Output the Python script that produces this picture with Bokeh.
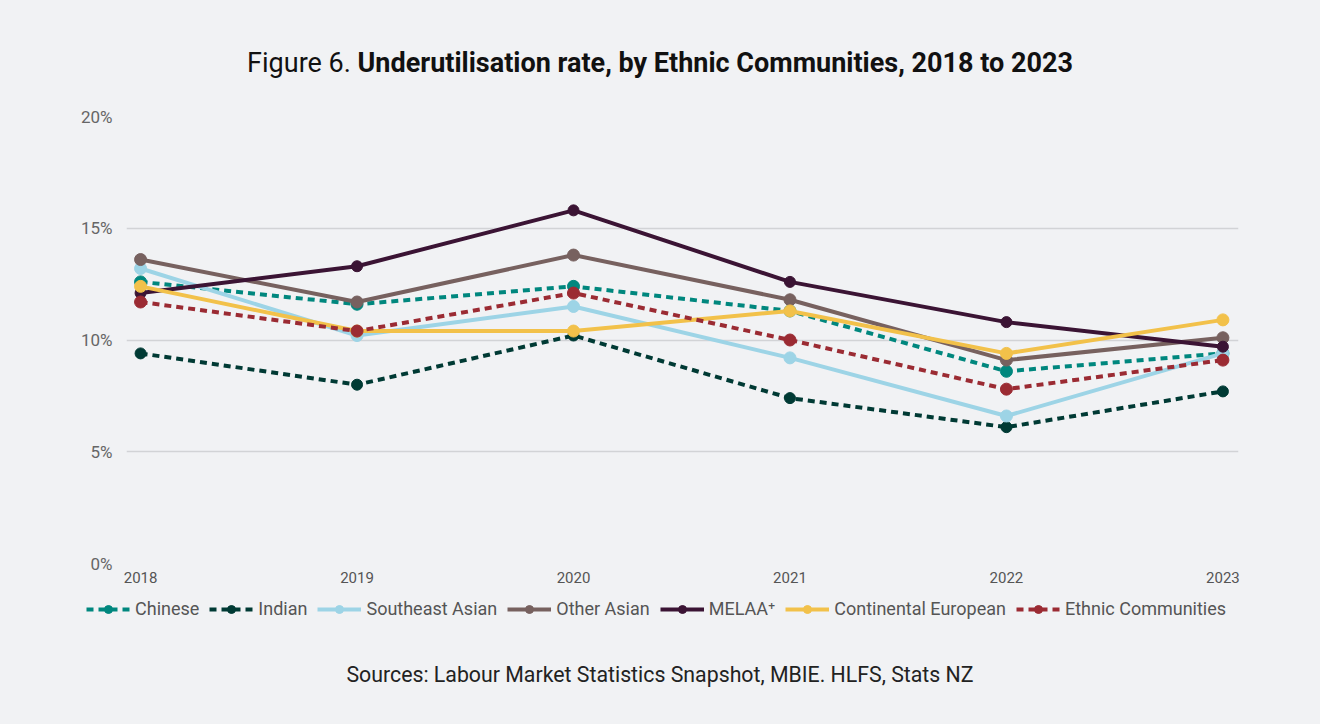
from bokeh.plotting import figure
from bokeh.models import (Range1d, FixedTicker, Legend, LegendItem, ColumnDataSource, Div)
from bokeh.layouts import column
from bokeh.embed import file_html
from bokeh.resources import INLINE

years = [2018, 2019, 2020, 2021, 2022, 2023]
chinese = [12.6, 11.6, 12.4, 11.3, 8.6, 9.4]
indian = [9.4, 8.0, 10.2, 7.4, 6.1, 7.7]
southeast_asian = [13.2, 10.2, 11.5, 9.2, 6.6, 9.4]
other_asian = [13.6, 11.7, 13.8, 11.8, 9.1, 10.1]
melaa = [12.1, 13.3, 15.8, 12.6, 10.8, 9.7]
continental_european = [12.4, 10.4, 10.4, 11.3, 9.4, 10.9]
ethnic_communities = [11.7, 10.4, 12.1, 10.0, 7.8, 9.1]

series_names = ["Chinese", "Indian", "Southeast Asian", "Other Asian", "MELAA\u207a",
                "Continental European", "Ethnic Communities"]
series_values = [chinese, indian, southeast_asian, other_asian, melaa,
                 continental_european, ethnic_communities]
series_colors = ["#00877E", "#003A34", "#9DD4E6", "#77615F", "#3B1434", "#F2C14A", "#9B2B33"]
series_dashed = [True, True, False, False, False, False, True]
series_marker = [12, 11, 12, 12, 11, 12, 12]

y_ticks = [0, 5, 10, 15, 20]
y_labels = ["0%", "5%", "10%", "15%", "20%"]

BG = "#F1F2F4"
W = 1320
TITLE_H = 80
FIG_H = 512
LEG_H = 34
SRC_H = 98

title = Div(text='<span style="font-weight:normal">Figure 6. </span>'
                 '<span style="font-weight:bold">Underutilisation rate, by Ethnic Communities, 2018 to 2023</span>',
            width=W, height=TITLE_H,
            styles={"background-color": BG, "font-family": "Roboto", "font-size": "27px",
                    "color": "#111111", "text-align": "center", "width": f"{W}px",
                    "padding-top": "44px", "box-sizing": "border-box", "margin": "0"})

p = figure(width=W, height=FIG_H, output_backend="svg", toolbar_location=None,
           x_range=Range1d(2017.935, 2023.072), y_range=Range1d(0, 20),
           min_border_left=126, min_border_right=82,
           min_border_top=36, min_border_bottom=29,
           background_fill_color=BG, border_fill_color=BG, outline_line_color=None)

# legend strip: its own figure; its renderers share the data but lie outside its ranges
lg = figure(width=W, height=LEG_H, output_backend="svg", toolbar_location=None,
            x_range=Range1d(0, 1), y_range=Range1d(0, 1),
            min_border_left=0, min_border_right=0, min_border_top=0, min_border_bottom=0,
            background_fill_color=BG, border_fill_color=BG, outline_line_color=None)
lg.axis.visible = False
lg.grid.visible = False

can_unalign = "frame_align" in lg.properties()
if can_unalign:
    lg.frame_align = False

items = []
for name, vals, col, dashed, ms in zip(series_names, series_values, series_colors,
                                       series_dashed, series_marker):
    src = ColumnDataSource(dict(x=years, y=vals))
    dash = "7 5" if dashed else "solid"
    p.line("x", "y", source=src, line_color=col, line_width=4, line_dash=dash)
    p.scatter("x", "y", source=src, size=ms, fill_color=col, line_color=col)
    l1 = lg.line("x", "y", source=src, line_color=col, line_width=4, line_dash=dash)
    l2 = lg.scatter("x", "y", source=src, size=ms, fill_color=col, line_color=col)
    items.append(LegendItem(label=name, renderers=[l1, l2]))

p.xaxis.ticker = FixedTicker(ticks=years)
p.xaxis.major_label_overrides = {y: str(y) for y in years}
p.xaxis.axis_line_color = None
p.xaxis.major_tick_line_color = None
p.xaxis.minor_tick_line_color = None
p.xaxis.major_tick_out = 0
p.xaxis.major_tick_in = 0
p.xaxis.major_label_text_font = "Roboto"
p.xaxis.major_label_text_font_size = "15px"
p.xaxis.major_label_text_color = "#555555"
p.xaxis.major_label_standoff = 8

p.yaxis.ticker = FixedTicker(ticks=y_ticks)
p.yaxis.major_label_overrides = {t: l for t, l in zip(y_ticks, y_labels)}
p.yaxis.axis_line_color = None
p.yaxis.major_tick_line_color = None
p.yaxis.minor_tick_line_color = None
p.yaxis.major_tick_out = 0
p.yaxis.major_tick_in = 0
p.yaxis.major_label_text_font = "Roboto"
p.yaxis.major_label_text_font_size = "17px"
p.yaxis.major_label_text_color = "#666666"
p.yaxis.major_label_standoff = 14

p.xgrid.grid_line_color = None
p.ygrid.grid_line_color = "#D2D3D6"
p.ygrid.grid_line_width = 1.5

if can_unalign:
    leg_kw = dict(location=(86, 7), glyph_width=44, label_standoff=5, spacing=10)
else:
    leg_kw = dict(location=(8, 7), glyph_width=40, label_standoff=4, spacing=6)

legend = Legend(items=items, orientation="horizontal",
                background_fill_alpha=0, border_line_color=None,
                label_text_font="Roboto", label_text_font_size="18px",
                label_text_color="#555555", glyph_height=20,
                padding=0, margin=0, **leg_kw)
lg.add_layout(legend)

source = Div(text="Sources: Labour Market Statistics Snapshot, MBIE. HLFS, Stats NZ",
             width=W, height=SRC_H,
             styles={"background-color": BG, "font-family": "Roboto", "font-size": "21.3px",
                     "color": "#222222", "text-align": "center", "width": f"{W}px",
                     "padding-top": "34px", "box-sizing": "border-box", "margin": "0"})

layout = column(title, p, lg, source, spacing=0, styles={"background-color": BG})

open("out.html", "w").write(file_html(layout, INLINE))
